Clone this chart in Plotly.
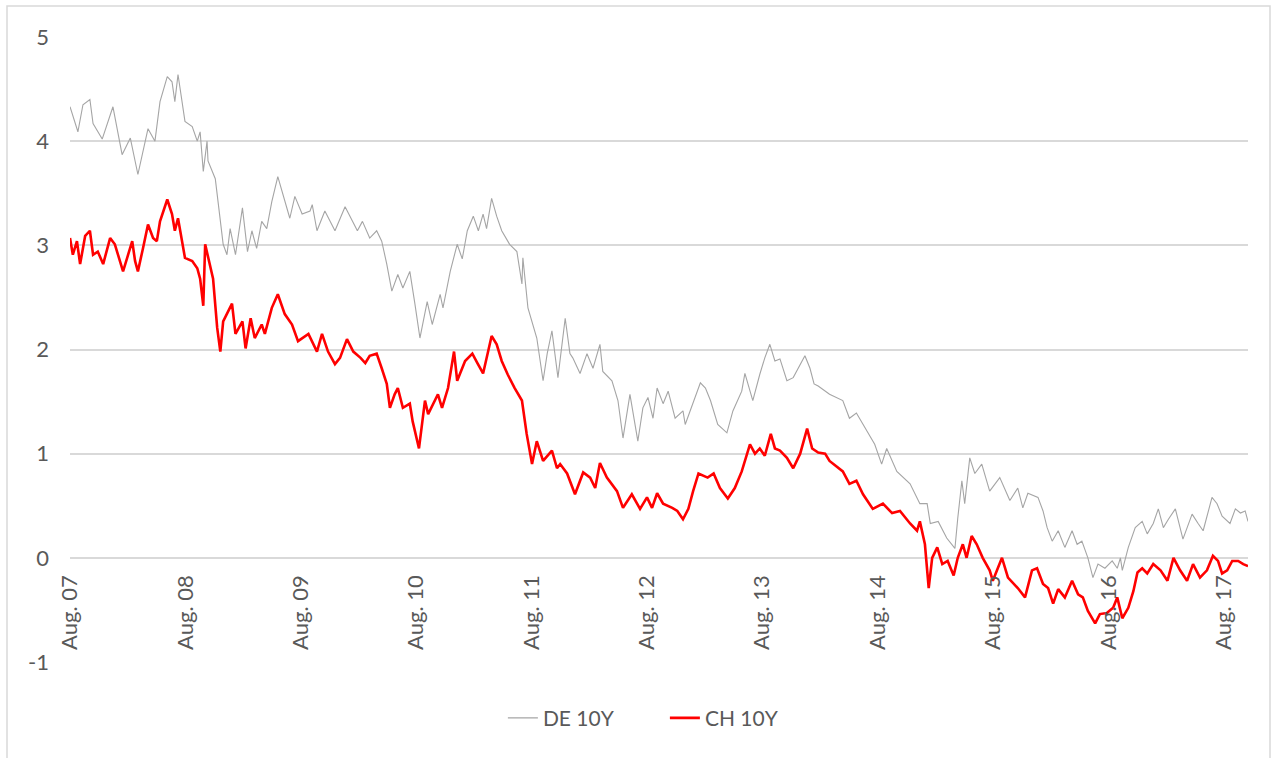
import plotly.graph_objects as go

# ---------------- data ----------------
de_dates = [
    "2007-08-01", "2007-08-26", "2007-09-11", "2007-10-03", "2007-10-13", "2007-11-11", "2007-12-15",
    "2008-01-13", "2008-02-08", "2008-03-03", "2008-04-04", "2008-04-26", "2008-05-12", "2008-06-04",
    "2008-06-19", "2008-06-28", "2008-07-08", "2008-07-30", "2008-08-22", "2008-09-07", "2008-09-16",
    "2008-09-26", "2008-10-08", "2008-10-11", "2008-11-03", "2008-11-19", "2008-11-28", "2008-12-10",
    "2008-12-20", "2009-01-06", "2009-01-28", "2009-02-13", "2009-02-27", "2009-03-14", "2009-03-30",
    "2009-04-15", "2009-05-01", "2009-05-20", "2009-06-11", "2009-06-27", "2009-07-13", "2009-08-05",
    "2009-08-30", "2009-09-06", "2009-09-21", "2009-10-16", "2009-11-17", "2009-12-19", "2010-01-27",
    "2010-02-12", "2010-03-07", "2010-03-29", "2010-04-14", "2010-04-30", "2010-05-16", "2010-06-04",
    "2010-06-20", "2010-07-12", "2010-07-28", "2010-08-13", "2010-09-05", "2010-09-21", "2010-10-16",
    "2010-10-25", "2010-11-17", "2010-12-09", "2010-12-25", "2011-01-10", "2011-01-29", "2011-02-14",
    "2011-03-01", "2011-03-12", "2011-03-28", "2011-04-13", "2011-04-29", "2011-05-24", "2011-06-16",
    "2011-07-02", "2011-07-05", "2011-07-21", "2011-08-18", "2011-09-07", "2011-09-20", "2011-10-05",
    "2011-10-24", "2011-11-16", "2011-12-01", "2011-12-10", "2012-01-02", "2012-01-24", "2012-02-12",
    "2012-03-05", "2012-03-14", "2012-04-12", "2012-05-01", "2012-05-17", "2012-06-08", "2012-06-17",
    "2012-07-03", "2012-07-19", "2012-08-04", "2012-08-20", "2012-09-02", "2012-09-21", "2012-10-07",
    "2012-10-29", "2012-11-23", "2012-11-30", "2012-12-16", "2013-01-17", "2013-02-02", "2013-02-18",
    "2013-03-13", "2013-04-11", "2013-04-30", "2013-05-28", "2013-06-07", "2013-07-02", "2013-07-24",
    "2013-08-09", "2013-08-25", "2013-09-10", "2013-09-26", "2013-10-18", "2013-11-07", "2013-11-23",
    "2013-12-14", "2013-12-30", "2014-01-12", "2014-01-25", "2014-03-02", "2014-04-13", "2014-05-04",
    "2014-05-26", "2014-06-28", "2014-07-23", "2014-08-14", "2014-08-30", "2014-10-01", "2014-11-12",
    "2014-12-13", "2015-01-05", "2015-01-15", "2015-02-09", "2015-03-08", "2015-04-03", "2015-04-12",
    "2015-04-25", "2015-05-04", "2015-05-20", "2015-06-05", "2015-06-27", "2015-07-22", "2015-08-23",
    "2015-09-24", "2015-10-19", "2015-11-04", "2015-11-20", "2015-12-22", "2016-01-07", "2016-01-20",
    "2016-02-05", "2016-02-24", "2016-03-16", "2016-04-08", "2016-04-24", "2016-05-09", "2016-05-28",
    "2016-06-13", "2016-06-29", "2016-07-21", "2016-08-13", "2016-08-29", "2016-09-08", "2016-09-14",
    "2016-10-03", "2016-10-25", "2016-11-16", "2016-12-02", "2016-12-21", "2017-01-06", "2017-01-22",
    "2017-02-07", "2017-03-01", "2017-03-25", "2017-04-23", "2017-05-12", "2017-05-28", "2017-06-25",
    "2017-07-11", "2017-07-27", "2017-08-21", "2017-09-07", "2017-09-23", "2017-10-08", "2017-10-17",
]
de_values = [
    4.33, 4.09, 4.35, 4.40, 4.17, 4.02, 4.33,
    3.87, 4.03, 3.68, 4.12, 4.00, 4.38, 4.62,
    4.57, 4.38, 4.64, 4.19, 4.14, 4.00, 4.09,
    3.71, 4.00, 3.81, 3.64, 3.23, 3.01, 2.91,
    3.16, 2.91, 3.36, 2.94, 3.14, 2.97, 3.23,
    3.16, 3.42, 3.66, 3.42, 3.26, 3.47, 3.30,
    3.33, 3.39, 3.14, 3.33, 3.14, 3.37, 3.14,
    3.23, 3.07, 3.14, 3.04, 2.82, 2.56, 2.72,
    2.59, 2.75, 2.44, 2.11, 2.46, 2.24, 2.53,
    2.40, 2.75, 3.01, 2.87, 3.14, 3.28, 3.14,
    3.30, 3.16, 3.45, 3.28, 3.14, 3.01, 2.94,
    2.63, 2.88, 2.40, 2.11, 1.70, 1.96, 2.18,
    1.73, 2.30, 1.96, 1.92, 1.77, 1.96, 1.82,
    2.05, 1.79, 1.70, 1.51, 1.15, 1.57, 1.41,
    1.12, 1.44, 1.54, 1.34, 1.63, 1.48, 1.60,
    1.34, 1.41, 1.28, 1.41, 1.68, 1.63, 1.51,
    1.28, 1.20, 1.41, 1.60, 1.77, 1.51, 1.76,
    1.92, 2.05, 1.89, 1.91, 1.70, 1.73, 1.82,
    1.94, 1.82, 1.67, 1.65, 1.57, 1.51, 1.34,
    1.39, 1.22, 1.09, 0.90, 1.05, 0.83, 0.71,
    0.52, 0.52, 0.33, 0.35, 0.19, 0.09, 0.38,
    0.74, 0.52, 0.96, 0.81, 0.90, 0.64, 0.77,
    0.55, 0.67, 0.48, 0.62, 0.58, 0.45, 0.29,
    0.16, 0.26, 0.10, 0.26, 0.13, 0.16, 0.00,
    -0.19, -0.06, -0.10, -0.03, -0.10, 0.00, -0.12,
    0.10, 0.29, 0.35, 0.23, 0.33, 0.47, 0.29,
    0.37, 0.47, 0.18, 0.42, 0.33, 0.26, 0.58,
    0.52, 0.40, 0.33, 0.47, 0.43, 0.45, 0.35,
]

ch_dates = [
    "2007-08-01", "2007-08-10", "2007-08-23", "2007-09-02", "2007-09-18", "2007-10-03", "2007-10-13",
    "2007-10-28", "2007-11-14", "2007-12-06", "2007-12-21", "2008-01-16", "2008-01-29", "2008-02-14",
    "2008-02-23", "2008-03-03", "2008-03-19", "2008-04-04", "2008-04-20", "2008-05-02", "2008-05-12",
    "2008-06-04", "2008-06-19", "2008-06-28", "2008-07-08", "2008-07-30", "2008-08-22", "2008-09-07",
    "2008-09-16", "2008-09-26", "2008-10-02", "2008-10-18", "2008-10-27", "2008-11-09", "2008-11-19",
    "2008-11-28", "2008-12-26", "2009-01-06", "2009-01-28", "2009-02-07", "2009-02-23", "2009-03-08",
    "2009-03-30", "2009-04-09", "2009-05-01", "2009-05-20", "2009-06-11", "2009-07-04", "2009-07-23",
    "2009-08-25", "2009-09-21", "2009-10-07", "2009-10-26", "2009-11-17", "2009-12-03", "2009-12-25",
    "2010-01-14", "2010-02-06", "2010-02-21", "2010-03-07", "2010-03-29", "2010-04-14", "2010-04-30",
    "2010-05-10", "2010-05-25", "2010-06-04", "2010-06-20", "2010-07-12", "2010-07-21", "2010-08-10",
    "2010-08-29", "2010-09-08", "2010-09-30", "2010-10-09", "2010-10-22", "2010-11-10", "2010-11-29",
    "2010-12-09", "2011-01-03", "2011-01-26", "2011-02-11", "2011-03-01", "2011-03-28", "2011-04-13",
    "2011-04-29", "2011-05-18", "2011-06-09", "2011-07-02", "2011-07-17", "2011-08-03", "2011-08-18",
    "2011-09-07", "2011-10-05", "2011-10-21", "2011-10-31", "2011-11-22", "2011-12-17", "2012-01-12",
    "2012-02-03", "2012-02-19", "2012-03-05", "2012-03-27", "2012-04-28", "2012-05-17", "2012-06-14",
    "2012-07-10", "2012-08-01", "2012-08-17", "2012-09-02", "2012-09-21", "2012-10-20", "2012-11-05",
    "2012-11-23", "2012-12-10", "2012-12-25", "2013-01-11", "2013-02-09", "2013-02-28", "2013-03-20",
    "2013-04-14", "2013-05-06", "2013-05-28", "2013-06-23", "2013-07-09", "2013-07-24", "2013-08-09",
    "2013-08-28", "2013-09-10", "2013-09-26", "2013-10-18", "2013-11-07", "2013-11-29", "2013-12-21",
    "2014-01-06", "2014-01-25", "2014-02-16", "2014-03-02", "2014-04-13", "2014-05-04", "2014-05-26",
    "2014-06-16", "2014-07-17", "2014-08-18", "2014-09-16", "2014-10-11", "2014-11-12", "2014-12-04",
    "2014-12-13", "2014-12-29", "2015-01-10", "2015-01-21", "2015-02-06", "2015-02-22", "2015-03-11",
    "2015-03-30", "2015-04-12", "2015-04-28", "2015-05-10", "2015-05-26", "2015-06-11", "2015-06-30",
    "2015-07-22", "2015-08-01", "2015-08-30", "2015-09-18", "2015-10-19", "2015-11-11", "2015-12-03",
    "2015-12-19", "2016-01-07", "2016-01-23", "2016-02-08", "2016-02-24", "2016-03-16", "2016-04-08",
    "2016-04-27", "2016-05-12", "2016-05-28", "2016-06-20", "2016-07-05", "2016-07-27", "2016-08-16",
    "2016-08-29", "2016-09-14", "2016-10-03", "2016-10-19", "2016-11-01", "2016-11-16", "2016-12-02",
    "2016-12-21", "2017-01-13", "2017-02-04", "2017-02-23", "2017-03-16", "2017-04-07", "2017-04-26",
    "2017-05-18", "2017-06-09", "2017-06-28", "2017-07-14", "2017-07-27", "2017-08-12", "2017-08-28",
    "2017-09-16", "2017-10-02", "2017-10-17",
]
ch_values = [
    3.07, 2.91, 3.04, 2.82, 3.09, 3.14, 2.91,
    2.94, 2.82, 3.07, 3.01, 2.75, 2.88, 3.04,
    2.85, 2.75, 2.97, 3.20, 3.07, 3.04, 3.23,
    3.44, 3.30, 3.14, 3.26, 2.88, 2.85, 2.78,
    2.68, 2.42, 3.01, 2.78, 2.68, 2.21, 1.98,
    2.27, 2.44, 2.15, 2.27, 2.01, 2.30, 2.11,
    2.24, 2.15, 2.40, 2.53, 2.34, 2.24, 2.08,
    2.15, 1.98, 2.15, 1.98, 1.86, 1.92, 2.10,
    1.98, 1.92, 1.87, 1.94, 1.96, 1.82, 1.67,
    1.44, 1.57, 1.63, 1.44, 1.48, 1.31, 1.05,
    1.51, 1.38, 1.51, 1.57, 1.44, 1.63, 1.98,
    1.70, 1.89, 1.96, 1.87, 1.77, 2.13, 2.05,
    1.89, 1.76, 1.63, 1.51, 1.19, 0.90, 1.12,
    0.93, 1.03, 0.86, 0.90, 0.81, 0.61, 0.82,
    0.77, 0.67, 0.91, 0.77, 0.64, 0.48, 0.61,
    0.47, 0.58, 0.48, 0.62, 0.52, 0.48, 0.45,
    0.37, 0.47, 0.64, 0.81, 0.77, 0.81, 0.67,
    0.57, 0.67, 0.83, 1.09, 1.00, 1.05, 0.98,
    1.19, 1.05, 1.03, 0.96, 0.86, 1.00, 1.24,
    1.05, 1.01, 1.00, 0.93, 0.83, 0.71, 0.74,
    0.61, 0.47, 0.52, 0.43, 0.45, 0.33, 0.26,
    0.35, 0.13, -0.29, 0.00, 0.10, -0.06, -0.03,
    -0.17, 0.00, 0.13, 0.00, 0.21, 0.13, 0.00,
    -0.12, -0.22, 0.00, -0.19, -0.29, -0.38, -0.12,
    -0.10, -0.25, -0.29, -0.44, -0.30, -0.38, -0.22,
    -0.35, -0.38, -0.51, -0.63, -0.54, -0.53, -0.48,
    -0.38, -0.58, -0.48, -0.32, -0.14, -0.10, -0.15,
    -0.06, -0.12, -0.22, 0.00, -0.12, -0.22, -0.06,
    -0.19, -0.12, 0.02, -0.03, -0.15, -0.12, -0.03,
    -0.03, -0.06, -0.08,
]

x_tick_dates = ["2007-08-01", "2008-08-01", "2009-08-01", "2010-08-01", "2011-08-01", "2012-08-01",
                "2013-08-01", "2014-08-01", "2015-08-01", "2016-08-01", "2017-08-01"]
x_tick_labels = ["Aug. 07", "Aug. 08", "Aug. 09", "Aug. 10", "Aug. 11", "Aug. 12",
                 "Aug. 13", "Aug. 14", "Aug. 15", "Aug. 16", "Aug. 17"]
y_tick_values = [-1, 0, 1, 2, 3, 4, 5]
y_tick_labels = ["-1", "0", "1", "2", "3", "4", "5"]
series_names = ["DE 10Y", "CH 10Y"]

# ---------------- figure ----------------
FONT = "Lato, 'Open Sans', sans-serif"
TXT = "#595959"

fig = go.Figure()
fig.add_trace(go.Scatter(x=de_dates, y=de_values, mode="lines", name=series_names[0],
                         line=dict(color="#A5A5A5", width=1.1)))
fig.add_trace(go.Scatter(x=ch_dates, y=ch_values, mode="lines", name=series_names[1],
                         line=dict(color="#FF0000", width=2.6)))

fig.update_layout(
    width=1277, height=758,
    margin=dict(l=70, r=29, t=37, b=96),
    paper_bgcolor="white", plot_bgcolor="white",
    font=dict(family=FONT, size=21, color=TXT),
    showlegend=True,
    legend=dict(orientation="h", x=0.505, xanchor="center", y=-0.09, yanchor="middle",
                font=dict(family=FONT, size=21, color=TXT), traceorder="normal",
                entrywidth=117, entrywidthmode="pixels",
                bgcolor="rgba(0,0,0,0)"),
    xaxis=dict(
        type="date", range=["2007-08-01", "2017-10-17"],
        anchor="free", position=1/6,
        tickmode="array", tickvals=x_tick_dates, ticktext=x_tick_labels,
        tickangle=-90, ticks="", ticklabelstandoff=12,
        showgrid=False, zeroline=False, showline=False,
        tickfont=dict(family=FONT, size=22, color=TXT),
    ),
    yaxis=dict(
        range=[-1, 5], tickmode="array", tickvals=y_tick_values, ticktext=y_tick_labels,
        showgrid=True, gridcolor="#D9D9D9", gridwidth=2,
        zeroline=False, showline=False, ticks="", ticklabelstandoff=20,
        tickfont=dict(family=FONT, size=22, color=TXT),
    ),
    shapes=[dict(type="rect", xref="paper", yref="paper",
                 x0=(7 - 70) / 1178, x1=(1270 - 70) / 1178,
                 y0=(662 - 770) / 625, y1=(662 - 6) / 625,
                 line=dict(color="#D9D9D9", width=1.5), fillcolor="rgba(0,0,0,0)",
                 layer="below")],
)

fig.write_html("out.html")
